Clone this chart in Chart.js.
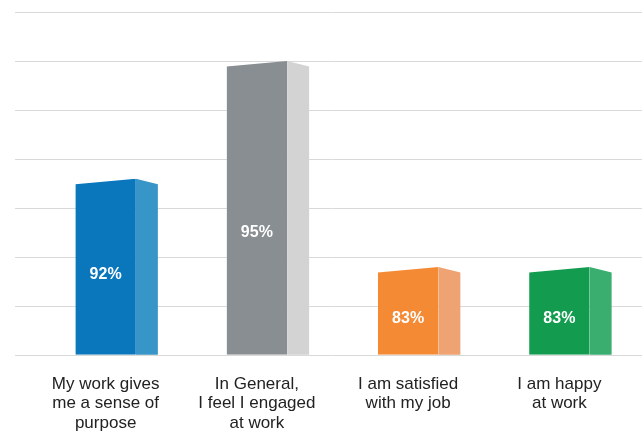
<!DOCTYPE html>
<html>
<head>
<meta charset="utf-8">
<style>
  html, body { margin: 0; padding: 0; background: #fff; }
  #wrap { width: 642px; height: 432px; }
</style>
<script src="https://cdn.jsdelivr.net/npm/chart.js@4.4.1/dist/chart.umd.min.js"></script>
</head>
<body>
<div id="wrap"><canvas id="chart1"></canvas></div>
<script>
const categories = [
    ['My work gives', 'me a sense of', 'purpose'],
    ['In General,', 'I feel I engaged', 'at work'],
    ['I am satisfied', 'with my job'],
    ['I am happy', 'at work']
];
// the printed percentages
const percents = [92, 95, 83, 83];
// bar heights as drawn, in axis units (the axis labels are hidden)
const barHeights = [3.6, 6.0, 1.8, 1.8];

const frontColors = ['#0a76bc', '#898e92', '#f58a35', '#139c50'];
const sideColors = ['#3895c8', '#d3d3d3', '#efa272', '#3aae6e'];

// Gives each bar a peaked top and a lighter side face
const box3d = {
    id: 'box3d',
    beforeDatasetDraw(chart, args, opts) {
        const ctx = chart.ctx;
        ctx.save();
        ctx.beginPath();
        args.meta.data.forEach(b => {
            const l = b.x - b.width / 2, r = b.x + b.width / 2;
            ctx.moveTo(l, b.base);
            ctx.lineTo(l, b.y + opts.rise);
            ctx.lineTo(r, b.y);
            ctx.lineTo(r, b.base);
            ctx.closePath();
        });
        ctx.clip();
    },
    afterDatasetDraw(chart, args, opts) {
        const ctx = chart.ctx;
        ctx.restore();
        args.meta.data.forEach((b, i) => {
            const r = b.x + b.width / 2;
            ctx.fillStyle = opts.sideColors[i];
            ctx.beginPath();
            ctx.moveTo(r, b.base);
            ctx.lineTo(r, b.y);
            ctx.lineTo(r + opts.depth, b.y + opts.rise);
            ctx.lineTo(r + opts.depth, b.base);
            ctx.closePath();
            ctx.fill();

            ctx.fillStyle = '#ffffff';
            ctx.font = 'bold 16px "Liberation Sans", Arial, sans-serif';
            ctx.textAlign = 'center';
            ctx.textBaseline = 'middle';
            const mid = (b.y + opts.rise + b.base) / 2 + opts.labelShift[i];
            ctx.fillText(percents[i] + '%', b.x, mid);
        });
    }
};

const config1 = {
    type: 'bar',
    data: {
        labels: categories,
        datasets: [{
            data: barHeights,
            backgroundColor: frontColors,
            borderWidth: 0,
            categoryPercentage: 1,
            barPercentage: 0.4
        }]
    },
    options: {
        responsive: true,
        maintainAspectRatio: false,
        animation: false,
        layout: { padding: { top: 12, left: 15, right: 0, bottom: -1 } },
        plugins: {
            legend: { display: false },
            tooltip: { enabled: false },
            box3d: {
                depth: 22,
                rise: 5.5,
                sideColors: sideColors,
                labelShift: [5, 22, 5, 5]
            }
        },
        scales: {
            x: {
                // hidden tick marks only used as the gap above the labels
                grid: { display: false, drawTicks: true, tickLength: 19 },
                border: { display: false },
                ticks: {
                    padding: 0,
                    color: '#222222',
                    maxRotation: 0,
                    autoSkip: false,
                    font: { family: '"Liberation Sans", Arial, sans-serif', size: 17, lineHeight: 1.15 }
                }
            },
            y: {
                min: 0,
                max: 7,
                ticks: { stepSize: 1, display: false },
                grid: { color: '#d9d9d9', tickLength: 15 },
                border: { display: false }
            },
            yRight: {
                position: 'right',
                min: 0,
                max: 7,
                ticks: { stepSize: 1, display: false },
                grid: { color: '#d9d9d9', tickLength: 7, drawOnChartArea: false },
                border: { display: false }
            }
        }
    },
    plugins: [box3d]
};

const chart1 = new Chart(document.getElementById('chart1').getContext('2d'), config1);
</script>
</body>
</html>
